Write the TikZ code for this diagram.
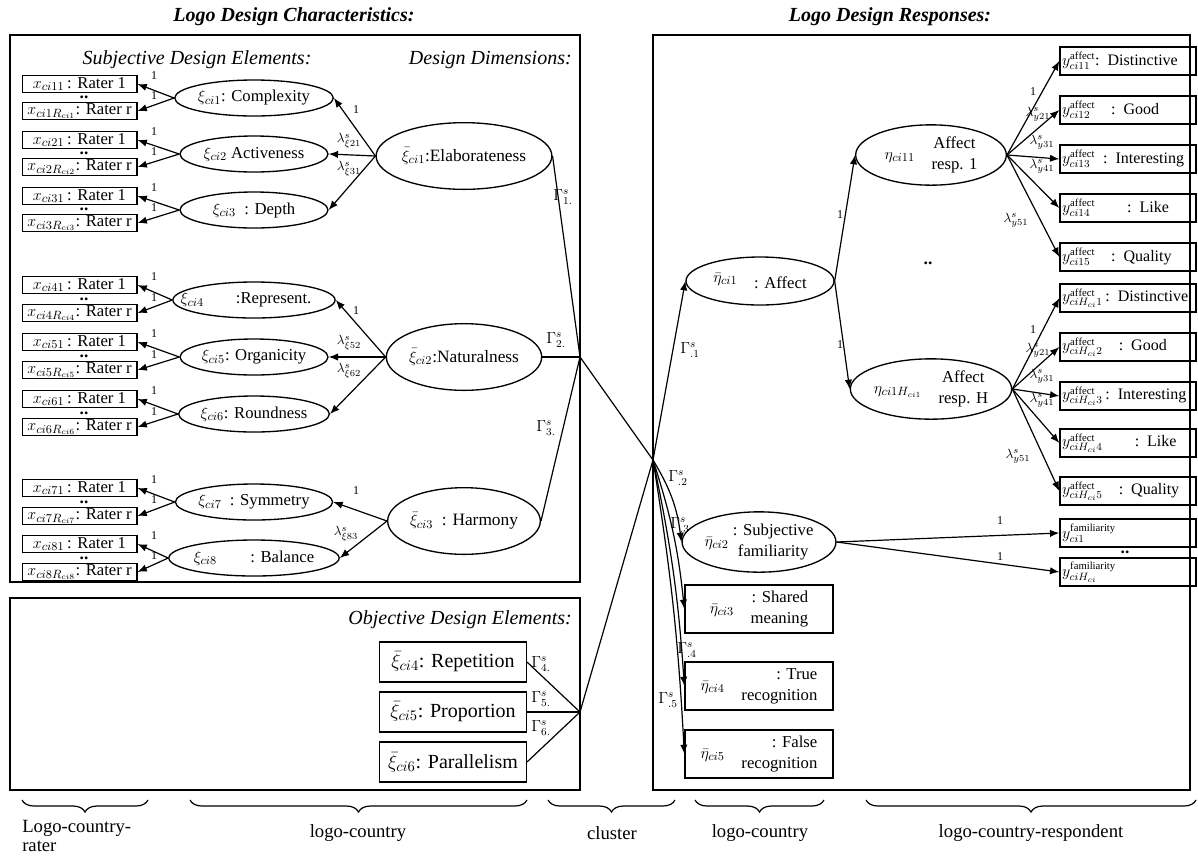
\documentclass[tikz,border=0pt]{standalone}
\usepackage{fontspec}
\setmainfont{Liberation Serif}
\usetikzlibrary{shapes.geometric,arrows.meta,decorations.pathreplacing}
\begin{document}
\begin{tikzpicture}[x=0.75pt,y=-0.75pt,
  every node/.style={inner sep=0pt},
  lw/.style={line width=0.9pt},
  arr/.style={lw,-{Latex[length=7pt,width=5.5pt]}},
  panel/.style={draw,line width=1pt},
  raterbox/.style={draw,line width=1pt,minimum width=86pt,minimum height=13pt,font=\fontsize{12.5}{15}\selectfont},
  xiell/.style={draw,ellipse,line width=1pt,minimum width=111pt,minimum height=27pt,font=\fontsize{12.5}{15}\selectfont},
  dimell/.style={draw,ellipse,line width=1pt,minimum width=111pt,minimum height=50pt,font=\fontsize{13}{15}\selectfont},
  objbox/.style={draw,line width=1pt,minimum width=110pt,minimum height=30pt,font=\fontsize{15}{17}\selectfont},
  etaell/.style={draw,ellipse,line width=1pt,minimum width=113pt,minimum height=35pt,font=\fontsize{12.5}{16}\selectfont},
  etabox/.style={draw,line width=1pt,minimum width=111pt,minimum height=36pt,font=\fontsize{12.5}{16}\selectfont},
  ybox/.style={draw,line width=1pt,minimum width=102pt,minimum height=21pt,text width=99pt,align=left,font=\fontsize{12}{15}\selectfont},
  one/.style={font=\fontsize{9}{10}\selectfont},
  lam/.style={font=\fontsize{10}{11}\selectfont},
  gam/.style={font=\fontsize{12}{13}\selectfont},
  head/.style={font=\fontsize{15}{17}\selectfont\itshape},
  ttl/.style={font=\fontsize{15}{17}\selectfont\bfseries\itshape},
  brlab/.style={font=\fontsize{14}{14}\selectfont},
  br/.style={decorate,decoration={brace,mirror,amplitude=9pt},line width=0.9pt},
  dots/.style={font=\fontsize{13}{13}\selectfont\bfseries}
]
\useasboundingbox (0,0) rectangle (1198,858);

% panels
\draw[panel] (10,35) rectangle (580,582);
\draw[panel] (10,598) rectangle (580,790);
\draw[panel] (653,35) rectangle (1190,790);

% titles and headings
\node[ttl] (t1) at (294,17) {Logo Design Characteristics:};
\node[ttl] (t2) at (890,17) {Logo Design Responses:};
\node[head] (h1) at (197,60) {Subjective Design Elements:};
\node[head,anchor=east] (h2) at (572,60) {Design Dimensions:};
\node[head,anchor=east] (h3) at (572,620) {Objective Design Elements:};

% subjective design elements
\node[xiell] (xi1) at (254,98) {$\xi_{ci1}$: Complexity};
\node[xiell] (xi2) at (254,154) {$\xi_{ci2}$ Activeness};
\node[xiell] (xi3) at (254,210) {$\xi_{ci3}$\enspace: Depth};
\node[xiell] (xi4) at (254,300) {\hspace{-12pt}$\xi_{ci4}$\hspace{24pt}:Represent.};
\node[xiell] (xi5) at (254,357) {$\xi_{ci5}$: Organicity};
\node[xiell] (xi6) at (254,414) {$\xi_{ci6}$: Roundness};
\node[xiell] (xi7) at (254,502) {$\xi_{ci7}$\enspace: Symmetry};
\node[xiell] (xi8) at (254,558) {$\xi_{ci8}$\qquad: Balance};

\foreach \i/\ya/\yb/\ye in {1/84/111/98, 2/140/167/154, 3/196/223/210, 4/285/313/300, 5/342/370/357, 6/399/427/414, 7/488/516/502, 8/544/572/558} {
  \node[raterbox] (ra\i) at (79.5,\ya) {$x_{ci\i1}$\,: Rater 1};
  \node[raterbox] (rb\i) at (79.5,\yb) {$x_{ci\i R_{ci\i}}$: Rater r};
  \node[dots] (dt\i) at (84,{(\ya+\yb)/2}) {..};
  \draw[arr] (xi\i.west) -- (ra\i.east);
  \draw[arr] (xi\i.west) -- (rb\i.east);
  \node[one] (oa\i) at (154,{\ya-8}) {1};
  \node[one] (ob\i) at (154,{\ye-2}) {1};
}

% design dimensions
\node[dimell] (elab) at (464,156) {$\bar{\xi}_{ci1}$:Elaborateness};
\node[dimell] (nat) at (464,357) {$\bar{\xi}_{ci2}$:Naturalness};
\node[dimell] (harm) at (464,521) {$\bar{\xi}_{ci3}$\enspace: Harmony};

\draw[arr] (elab.west) -- (xi1.east);
\draw[arr] (elab.west) -- (xi2.east);
\draw[arr] (elab.west) -- (xi3.east);
\node[one] (l11) at (356,110) {1};
\node[lam] (l21) at (349,141) {$\lambda^{s}_{\xi 21}$};
\node[lam] (l31) at (349,169) {$\lambda^{s}_{\xi 31}$};

\draw[arr] (nat.west) -- (xi4.east);
\draw[arr] (nat.west) -- (xi5.east);
\draw[arr] (nat.west) -- (xi6.east);
\node[one] (l42) at (356,311) {1};
\node[lam] (l52) at (349,343) {$\lambda^{s}_{\xi 52}$};
\node[lam] (l62) at (349,371) {$\lambda^{s}_{\xi 62}$};

\draw[arr] (harm.west) -- (xi7.east);
\draw[arr] (harm.west) -- (xi8.east);
\node[one] (l73) at (356,491) {1};
\node[lam] (l83) at (346,534) {$\lambda^{s}_{\xi 83}$};

% objective design elements
\node[objbox] (rep) at (453,662) {$\bar{\xi}_{ci4}$: Repetition};
\node[objbox] (prop) at (453,712) {$\bar{\xi}_{ci5}$: Proportion};
\node[objbox] (par) at (453,762) {$\bar{\xi}_{ci6}$: Parallelism};

% junctions
\coordinate (j1) at (580,357);
\coordinate (j2) at (653,460);
\coordinate (j3) at (580,712);
\draw[lw] (elab.east) -- (j1);
\draw[lw] (nat.east) -- (j1);
\draw[lw] (harm.east) -- (j1);
\draw[lw] (j1) -- (j2);
\draw[lw] (rep.east) -- (j3);
\draw[lw] (prop.east) -- (j3);
\draw[lw] (par.east) -- (j3);
\draw[lw] (j3) -- (j2);
\node[gam] (g1) at (563,197) {$\Gamma^{s}_{1.}$};
\node[gam] (g2) at (556,340) {$\Gamma^{s}_{2.}$};
\node[gam] (g3) at (546,428) {$\Gamma^{s}_{3.}$};
\node[gam] (g4) at (541,664) {$\Gamma^{s}_{4.}$};
\node[gam] (g5) at (541,699) {$\Gamma^{s}_{5.}$};
\node[gam] (g6) at (541,728) {$\Gamma^{s}_{6.}$};

% responses
\node[etaell,minimum width=111pt,minimum height=36pt] (aff) at (760,281) {\raisebox{5pt}{$\bar{\eta}_{ci1}$}\quad: Affect};
\node[etaell] (e11) at (931,155) {$\eta_{ci11}$\quad\begin{tabular}{@{}c@{}}Affect\\resp. 1\end{tabular}};
\node[etaell,minimum height=37pt] (e1H) at (931,389) {$\eta_{ci1H_{ci1}}$\quad\begin{tabular}{@{}c@{}}Affect\\resp. H\end{tabular}};
\node[etaell,minimum width=111pt,minimum height=36pt] (fam) at (759,542) {$\bar{\eta}_{ci2}$\ \begin{tabular}{@{}c@{}}: Subjective\\familiarity\end{tabular}};
\node[etabox] (e3) at (759,609) {$\bar{\eta}_{ci3}$\quad\begin{tabular}{@{}r@{}}: Shared\\meaning\end{tabular}};
\node[etabox] (e4) at (759,686) {$\bar{\eta}_{ci4}$\quad\begin{tabular}{@{}r@{}}: True\\recognition\end{tabular}};
\node[etabox] (e5) at (759,754) {$\bar{\eta}_{ci5}$\quad\begin{tabular}{@{}r@{}}: False\\recognition\end{tabular}};

\draw[arr] (j2) -- (aff.west);
\draw[arr] (j2) to[bend left=12] (fam.west);
\draw[arr] (j2) to[bend left=6] (e3.west);
\draw[arr] (j2) to[bend left=4] (e4.west);
\draw[arr] (j2) to[bend left=3] (e5.west);
\node[gam] (gr1) at (690,350) {$\Gamma^{s}_{.1}$};
\node[gam] (gr2) at (678,478) {$\Gamma^{s}_{.2}$};
\node[gam] (gr3) at (680,525) {$\Gamma^{s}_{.3}$};
\node[gam] (gr4) at (687,650) {$\Gamma^{s}_{.4}$};
\node[gam] (gr5) at (668,700) {$\Gamma^{s}_{.5}$};

\draw[arr] (aff.east) -- (e11.west);
\draw[arr] (aff.east) -- (e1H.west);
\node[one] (la1) at (840,215) {1};
\node[one] (la2) at (840,345) {1};
\node[dots] (dr1) at (928,263) {..};

% affect response items
\node[ybox] (ya1) at (1128,61) {\mbox{$y^{\mathrm{affect}}_{ci11}$: Distinctive}};
\node[ybox] (ya2) at (1128,110) {\mbox{$y^{\mathrm{affect}}_{ci12}$\quad: Good}};
\node[ybox] (ya3) at (1128,159) {\mbox{$y^{\mathrm{affect}}_{ci13}$\enspace: Interesting}};
\node[ybox] (ya4) at (1128,208) {\mbox{$y^{\mathrm{affect}}_{ci14}$\qquad: Like}};
\node[ybox] (ya5) at (1128,257) {\mbox{$y^{\mathrm{affect}}_{ci15}$\quad: Quality}};
\node[ybox] (yb1) at (1128,298) {\mbox{$y^{\mathrm{affect}}_{ciH_{ci}1}$\,: Distinctive}};
\node[ybox] (yb2) at (1128,347) {\mbox{$y^{\mathrm{affect}}_{ciH_{ci}2}$\quad: Good}};
\node[ybox] (yb3) at (1128,396) {\mbox{$y^{\mathrm{affect}}_{ciH_{ci}3}$\,: Interesting}};
\node[ybox] (yb4) at (1128,443) {\mbox{$y^{\mathrm{affect}}_{ciH_{ci}4}$\qquad: Like}};
\node[ybox] (yb5) at (1128,491) {\mbox{$y^{\mathrm{affect}}_{ciH_{ci}5}$\quad: Quality}};
\node[ybox] (yf1) at (1128,533) {\mbox{$y^{\mathrm{familiarity}}_{ci1}$}};
\node[ybox] (yf2) at (1128,572) {\mbox{$y^{\mathrm{familiarity}}_{ciH_{ci}}$}};
\node[dots] (dr2) at (1125,552) {..};

\foreach \k in {1,...,5} {
  \draw[arr] (e11.east) -- (ya\k.west);
  \draw[arr] (e1H.east) -- (yb\k.west);
}
\node[one] (ya1l) at (1033,92) {1};
\node[lam] (ya2l) at (1038,114) {$\lambda^{s}_{y21}$};
\node[lam] (ya3l) at (1042,142) {$\lambda^{s}_{y31}$};
\node[lam] (ya4l) at (1042,166) {$\lambda^{s}_{y41}$};
\node[lam] (ya5l) at (1016,220) {$\lambda^{s}_{y51}$};
\node[one] (yb1l) at (1033,330) {1};
\node[lam] (yb2l) at (1038,350) {$\lambda^{s}_{y21}$};
\node[lam] (yb3l) at (1042,376) {$\lambda^{s}_{y31}$};
\node[lam] (yb4l) at (1042,400) {$\lambda^{s}_{y41}$};
\node[lam] (yb5l) at (1018,456) {$\lambda^{s}_{y51}$};

\draw[arr] (fam.east) -- (yf1.west);
\draw[arr] (fam.east) -- (yf2.west);
\node[one] (lf1) at (1000,521) {1};
\node[one] (lf2) at (1000,557) {1};

% braces and levels
\draw[br] (22,800) -- (148,800);
\draw[br] (190,800) -- (527,800);
\draw[br] (548,800) -- (675,800);
\draw[br] (695,800) -- (824,800);
\draw[br] (866,800) -- (1196,800);
\node[brlab,align=left,anchor=north west] (b1) at (22,820) {Logo-country-\\rater};
\node[brlab] (b2) at (358,833) {logo-country};
\node[brlab] (b3) at (612,833) {cluster};
\node[brlab] (b4) at (760,833) {logo-country};
\node[brlab] (b5) at (1031,833) {logo-country-respondent};
\end{tikzpicture}
\end{document}
